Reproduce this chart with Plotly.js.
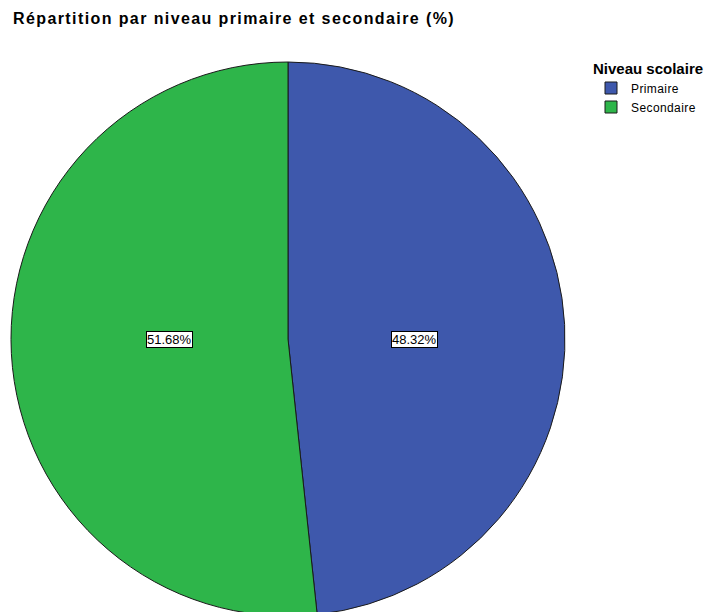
<!DOCTYPE html>
<html>
<head>
<meta charset="utf-8">
<script src="https://cdn.plot.ly/plotly-3.0.1.min.js"></script>
<style>
html,body{margin:0;padding:0;overflow:hidden;background:#fff;}
#chart{width:711px;height:700px;}
#chart .gtitle{letter-spacing:1.4px;}
#chart .legendtext{letter-spacing:0.4px;}
</style>
</head>
<body>
<div id="chart"></div>
<script>
const categories = ["Primaire", "Secondaire"];
const values = [48.32, 51.68];
const colors = ["#3e58ac", "#2eb54a"];

const W = 711, H = 700;
const cx = 288, cy = 339, R = 277;
const dom = {
  x: [(cx - R) / W, (cx + R) / W],
  y: [1 - (cy + R) / H, 1 - (cy - R) / H]
};

const total = values.reduce((a, b) => a + b, 0);
// label positions: near the centroid of each sector, on the horizontal centre line
let acc = 0;
const annotations = values.map((v, i) => {
  const half = Math.PI * v / total;          // half sector angle
  const mid = (acc + v / 2) / total * 2 * Math.PI;
  acc += v;
  const d = 2 * R * Math.sin(half) / (3 * half) * 1.045;
  const px = cx + d * Math.sin(mid);
  return {
    x: px / W, y: 1 - (cy + 0.5) / H, xref: "paper", yref: "paper",
    xanchor: "center", yanchor: "middle",
    text: (v / total * 100).toFixed(2) + "%",
    showarrow: false,
    font: {family: "Arial, Liberation Sans, sans-serif", size: 13, color: "#000"},
    bgcolor: "#fff", bordercolor: "#000", borderwidth: 1, borderpad: 0
  };
});

const data = [{
  type: "pie",
  labels: categories,
  values: values,
  sort: false,
  direction: "clockwise",
  rotation: 0,
  textinfo: "none",
  hoverinfo: "label+percent",
  marker: {colors: colors, line: {color: "#1a1a1a", width: 1}},
  domain: dom
}];

const layout = {
  width: W, height: H,
  margin: {l: 0, r: 0, t: 0, b: 0},
  paper_bgcolor: "#fff",
  title: {
    text: "<b>Répartition par niveau primaire et secondaire (%)</b>",
    font: {family: "Arial, Liberation Sans, sans-serif", size: 16, color: "#000"},
    x: 13 / W, xanchor: "left", y: 1 - 18 / H, yanchor: "middle"
  },
  legend: {
    title: {text: "<b>Niveau scolaire</b>", side: "top",
      font: {family: "Arial, Liberation Sans, sans-serif", size: 15, color: "#000"}},
    font: {family: "Arial, Liberation Sans, sans-serif", size: 12, color: "#000"},
    x: 591 / W, xanchor: "left", y: 1 - 54 / H, yanchor: "top",
    bgcolor: "rgba(0,0,0,0)", itemwidth: 30, tracegroupgap: 0
  },
  showlegend: true,
  annotations: annotations
};

Plotly.newPlot("chart", data, layout, {displayModeBar: false, staticPlot: true});
</script>
</body>
</html>
